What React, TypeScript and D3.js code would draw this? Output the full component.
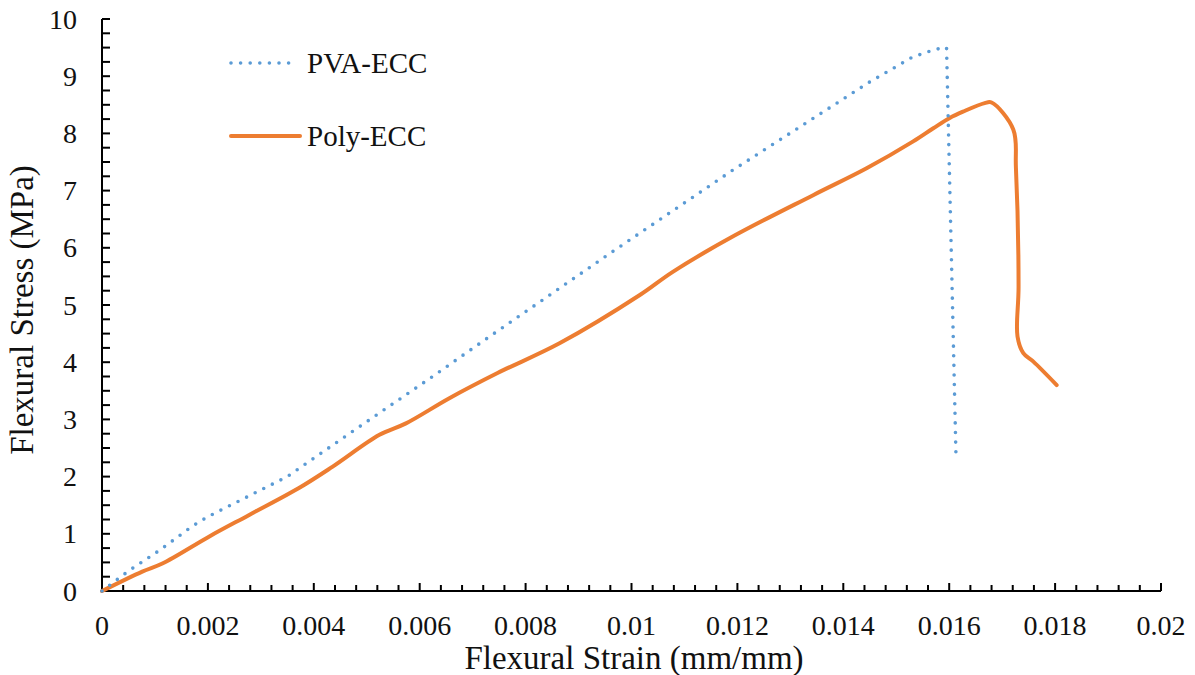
import React from "react";
import * as d3 from "d3";

// PVA-ECC curve, strain (mm/mm) and stress (MPa)
const pvaStrain = [0, 0.0005, 0.0011, 0.0017, 0.0020, 0.0035, 0.0047, 0.00615, 0.0074, 0.0097, 0.0119, 0.0145, 0.0153, 0.0157, 0.0159, 0.01595, 0.01613];
const pvaStress = [0, 0.35, 0.72, 1.13, 1.3, 2.0, 2.77, 3.69, 4.5, 5.97, 7.35, 8.9, 9.33, 9.46, 9.5, 9.5, 2.29];

// Poly-ECC curve
const polyStrain = [0, 0.00076, 0.00114, 0.00202, 0.00278, 0.00372, 0.00435, 0.00524, 0.00574, 0.00656, 0.00747, 0.00864, 0.01015, 0.01078, 0.01192, 0.01343, 0.01444, 0.01532, 0.0157, 0.01601, 0.01626, 0.01667, 0.0168, 0.01721, 0.01726, 0.01731, 0.01729, 0.0174, 0.01759, 0.01803];
const polyStress = [0, 0.34, 0.48, 0.95, 1.33, 1.8, 2.17, 2.73, 2.93, 3.37, 3.81, 4.33, 5.17, 5.58, 6.2, 6.92, 7.39, 7.86, 8.09, 8.27, 8.38, 8.53, 8.54, 8.07, 7.4, 5.32, 4.45, 4.16, 4.01, 3.6];

const xTicks = [0, 0.002, 0.004, 0.006, 0.008, 0.01, 0.012, 0.014, 0.016, 0.018, 0.02];
const yTicks = [0, 1, 2, 3, 4, 5, 6, 7, 8, 9, 10];

const seriesNames = ["PVA-ECC", "Poly-ECC"];
const BLUE = "#5B9BD5";
const ORANGE = "#ED7D31";
const FONT = '"Liberation Serif", "Times New Roman", "DejaVu Serif", serif';

export default function App() {
    const ref = React.useRef<SVGSVGElement>(null);

    React.useEffect(() => {
        drawChart();
    });

    function drawChart() {
        const svg = d3.select(ref.current);
        svg.selectAll("*").remove();

        const x = d3.scaleLinear().domain([0, 0.02]).range([102, 1161]);
        const y = d3.scaleLinear().domain([0, 10]).range([591, 19]);

        // minor ticks (inward)
        const xMinor = d3.range(0, 0.02 + 1e-9, 0.0004);
        const yMinor = d3.range(0, 10 + 1e-9, 0.25);

        svg.append("g")
            .selectAll("line")
            .data(xMinor)
            .enter()
            .append("line")
            .attr("x1", (d) => x(d))
            .attr("x2", (d) => x(d))
            .attr("y1", 591)
            .attr("y2", (d) => (xTicks.some((t) => Math.abs(t - d) < 1e-9) ? 583 : 585))
            .attr("stroke", "black")
            .attr("stroke-width", 2);

        svg.append("g")
            .selectAll("line")
            .data(yMinor)
            .enter()
            .append("line")
            .attr("x1", 102)
            .attr("x2", 110)
            .attr("y1", (d) => y(d))
            .attr("y2", (d) => y(d))
            .attr("stroke", "black")
            .attr("stroke-width", 2);

        // axis lines
        svg.append("line")
            .attr("x1", 102).attr("x2", 102)
            .attr("y1", y(10)).attr("y2", y(0) + 1)
            .attr("stroke", "black").attr("stroke-width", 2);
        svg.append("line")
            .attr("x1", 101).attr("x2", x(0.02))
            .attr("y1", 591).attr("y2", 591)
            .attr("stroke", "black").attr("stroke-width", 2);

        // tick labels
        svg.append("g")
            .selectAll("text")
            .data(xTicks)
            .enter()
            .append("text")
            .attr("x", (d) => x(d))
            .attr("y", 635)
            .attr("text-anchor", "middle")
            .style("font-family", FONT)
            .style("font-size", "28px")
            .attr("fill", "#111")
            .text((d) => String(+d.toFixed(3)));

        svg.append("g")
            .selectAll("text")
            .data(yTicks)
            .enter()
            .append("text")
            .attr("x", 77)
            .attr("y", (d) => y(d) + 9.5)
            .attr("text-anchor", "end")
            .style("font-family", FONT)
            .style("font-size", "28px")
            .attr("fill", "#111")
            .text((d) => String(d));

        // axis titles
        svg.append("text")
            .attr("x", 634)
            .attr("y", 669)
            .attr("text-anchor", "middle")
            .style("font-family", FONT)
            .style("font-size", "33px")
            .attr("fill", "#111")
            .text("Flexural Strain (mm/mm)");

        svg.append("text")
            .attr("transform", "translate(33,310) rotate(-90)")
            .attr("text-anchor", "middle")
            .style("font-family", FONT)
            .style("font-size", "33px")
            .attr("fill", "#111")
            .text("Flexural Stress (MPa)");

        const line = d3
            .line<[number, number]>()
            .x((d) => x(d[0]))
            .y((d) => y(d[1]))
            .curve(d3.curveCatmullRom.alpha(0.5));

        const polyData: [number, number][] = polyStrain.map((s, i) => [s, polyStress[i]]);
        const pvaData: [number, number][] = pvaStrain.map((s, i) => [s, pvaStress[i]]);

        svg.append("path")
            .datum(polyData)
            .attr("d", line)
            .attr("fill", "none")
            .attr("stroke", ORANGE)
            .attr("stroke-width", 4)
            .attr("stroke-linejoin", "round")
            .attr("stroke-linecap", "round");

        svg.append("path")
            .datum(pvaData)
            .attr("d", line.curve(d3.curveLinear))
            .attr("fill", "none")
            .attr("stroke", BLUE)
            .attr("stroke-width", 3.6)
            .attr("stroke-dasharray", "0 9.6")
            .attr("stroke-linecap", "round");

        // legend
        const legend = svg.append("g");
        legend.append("line")
            .attr("x1", 231).attr("x2", 295)
            .attr("y1", 63).attr("y2", 63)
            .attr("stroke", BLUE)
            .attr("stroke-width", 3.6)
            .attr("stroke-dasharray", "0 9.6")
            .attr("stroke-linecap", "round");
        legend.append("line")
            .attr("x1", 231).attr("x2", 300)
            .attr("y1", 136).attr("y2", 136)
            .attr("stroke", ORANGE)
            .attr("stroke-width", 4)
            .attr("stroke-linecap", "round");
        legend.selectAll("text")
            .data(seriesNames)
            .enter()
            .append("text")
            .attr("x", 307)
            .attr("y", (d, i) => (i === 0 ? 73 : 146))
            .style("font-family", FONT)
            .style("font-size", "29px")
            .attr("fill", "#111")
            .text((d) => d);
    }

    return (
        <svg
            ref={ref}
            width={1195}
            height={675}
            style={{ position: "absolute", left: 0, top: 0, background: "white" }}
        />
    );
}
